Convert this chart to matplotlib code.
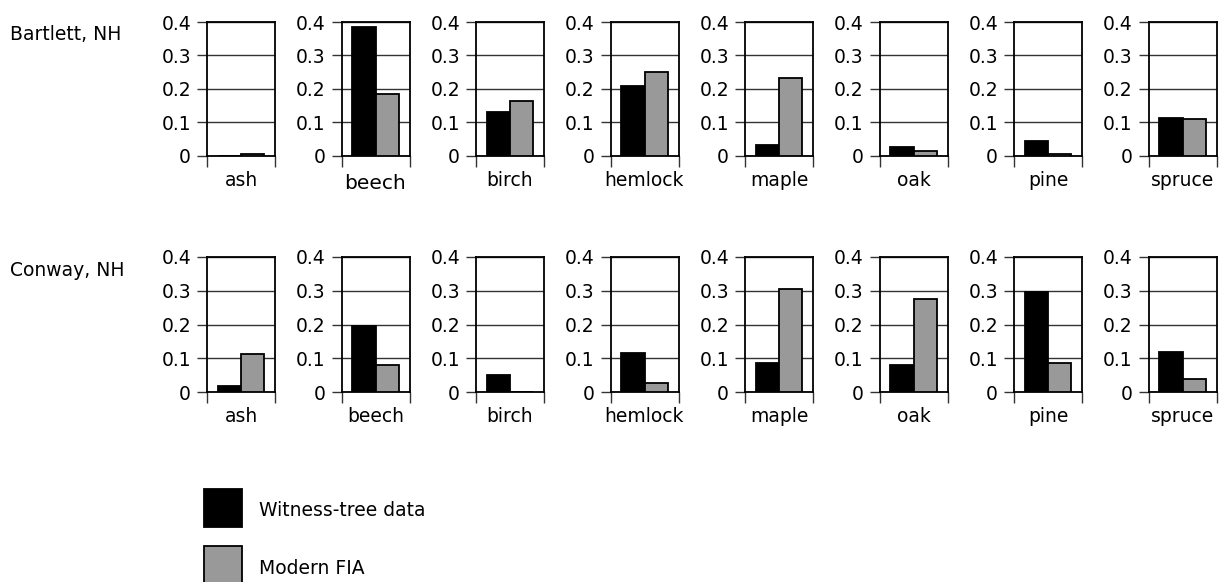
import matplotlib
matplotlib.use("Agg")
import matplotlib.pyplot as plt
from matplotlib.patches import Rectangle

plt.rcParams["font.family"] = ["DejaVu Sans"]

species = ["ash", "beech", "birch", "hemlock", "maple", "oak", "pine", "spruce"]
sites = ["Bartlett, NH", "Conway, NH"]

bartlett_witness = [0.001, 0.386, 0.132, 0.209, 0.032, 0.026, 0.044, 0.114]
bartlett_fia = [0.005, 0.185, 0.164, 0.252, 0.232, 0.015, 0.007, 0.110]
conway_witness = [0.017, 0.197, 0.049, 0.117, 0.086, 0.079, 0.297, 0.120]
conway_fia = [0.112, 0.079, 0.001, 0.028, 0.304, 0.275, 0.086, 0.038]

yticks = [0, 0.1, 0.2, 0.3, 0.4]
ytick_labels = ["0", "0.1", "0.2", "0.3", "0.4"]

BLACK = "#000000"
GRAY = "#999999"
W, H = 1223, 582

fig = plt.figure(figsize=(W / 100, H / 100), dpi=100)

rows = [
    (sites[0], bartlett_witness, bartlett_fia, 22, 156),
    (sites[1], conway_witness, conway_fia, 257, 392),
]
lefts = [207 + 134.5 * i for i in range(8)]
pw = 68

for site, wit, fia, top, bot in rows:
    fig.text(10 / W, 1 - (top + 13) / H, site, fontsize=13.5, ha="left", va="center")
    for i, name in enumerate(species):
        ax = fig.add_axes([lefts[i] / W, 1 - bot / H, pw / W, (bot - top) / H])
        ax.bar([0.33], [wit[i]], width=0.34, color=BLACK, edgecolor=BLACK, lw=1.3, zorder=3)
        ax.bar([0.67], [fia[i]], width=0.34, color=GRAY, edgecolor=BLACK, lw=1.3, zorder=3)
        ax.set_xlim(0, 1)
        ax.set_ylim(0, 0.4)
        ax.set_yticks(yticks)
        ax.set_yticklabels(ytick_labels, fontsize=13.5)
        ax.yaxis.grid(True, color="#333333", lw=1.0, zorder=1)
        ax.tick_params(axis="y", direction="out", length=7.5, width=1.0,
                       color="#333333", pad=4)
        ax.set_xticks([0, 1])
        ax.set_xticklabels([])
        ax.tick_params(axis="x", direction="out", length=8, width=1.0, color="#333333")
        for s in ax.spines.values():
            s.set_linewidth(1.3)
            s.set_color(BLACK)
        big = site == sites[0] and name == "beech"
        ax.text(0.5, -0.205 if big else -0.185, name, transform=ax.transAxes,
                ha="center", va="center", fontsize=14.5 if big else 13.5)

# legend
for y0, col, lab in [(489, BLACK, "Witness-tree data"), (546, GRAY, "Modern FIA")]:
    fig.patches.append(Rectangle((204 / W, 1 - (y0 + 38) / H), 38 / W, 38 / H,
                                 transform=fig.transFigure, facecolor=col,
                                 edgecolor=BLACK, lw=1.3))
    fig.text(259 / W, 1 - (y0 + 22) / H, lab, fontsize=13.5, ha="left", va="center")

fig.savefig("out.png", dpi=100, facecolor="white")
